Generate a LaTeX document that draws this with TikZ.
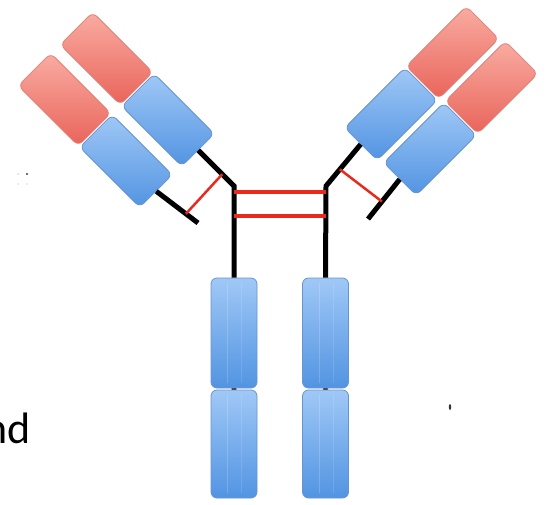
\documentclass[tikz,border=0pt]{standalone}
\usepackage{fontspec}
\setmainfont{Carlito}
\usetikzlibrary{calc}
\definecolor{bluetop}{RGB}{160,200,246}
\definecolor{bluebot}{RGB}{82,148,226}
\definecolor{blueedge}{RGB}{104,148,205}
\definecolor{redtop}{RGB}{249,172,162}
\definecolor{redbot}{RGB}{233,100,90}
\definecolor{rededge}{RGB}{226,128,118}
\definecolor{bondred}{RGB}{232,42,30}
\tikzset{
  dombox/.style={rounded corners=6pt, line width=0.8pt, inner sep=0pt},
  cblue/.style={dombox, draw=blueedge, top color=bluetop, bottom color=bluebot},
  cred/.style={dombox, draw=rededge, top color=redtop, bottom color=redbot},
  stemdom/.style={cblue, minimum width=46pt, minimum height=110pt},
  armblue/.style={cblue, minimum width=46pt, minimum height=85pt},
  armred/.style={cred, minimum width=46pt, minimum height=85pt},
  chain/.style={line width=5pt, black, line join=miter},
  sbond/.style={line width=4pt, bondred},
  sbondthin/.style={line width=2.5pt, bondred},
}
\begin{document}
\begin{tikzpicture}[x=1pt,y=-1pt]
\useasboundingbox (0,0) rectangle (548,505);

% constant domains of the two heavy chains (Fc stem)
\node[stemdom] (hc1L) at (234,333) {};
\node[stemdom, minimum height=108pt] (hc2L) at (234,444) {};
\node[stemdom] (hc1R) at (325.5,333) {};
\node[stemdom, minimum height=108pt] (hc2R) at (325.5,444) {};

% faint gloss lines inside the stem domains
\foreach \n in {hc1L,hc2L,hc1R,hc2R}{
  \draw[white, opacity=0.18, line width=0.8pt]
    ($(\n.north west)+(17,5)$) -- ($(\n.south west)+(17,-5)$);
  \draw[white, opacity=0.12, line width=0.8pt]
    ($(\n.north west)+(31,5)$) -- ($(\n.south west)+(31,-5)$);
}
\fill[black!70] ($(hc1L.south)!0.5!(hc2L.north)$) ellipse (3pt and 1pt);
\fill[black!70] ($(hc1R.south)!0.5!(hc2R.north)$) ellipse (3pt and 1pt);

% left Fab arm
\node[armblue, rotate=45] (hbL) at (168,120) {};
\node[armred,  rotate=45] (hvL) at (106.5,58.5) {};
\node[armblue, rotate=45] (lbL) at (126,161) {};
\node[armred,  rotate=45] (lvL) at (64.5,99.5) {};

% right Fab arm
\node[armblue, rotate=-45] (hbR) at (391,114) {};
\node[armred,  rotate=-45] (hvR) at (452.5,52.5) {};
\node[armblue, rotate=-45] (lbR) at (430,149) {};
\node[armred,  rotate=-45] (lvR) at (491.5,87.5) {};

% hinge points and free ends of the light chains
\coordinate (JL) at (234,186);
\coordinate (JR) at (326,186);
\coordinate (ltL) at (198,223);
\coordinate (ltR) at (368,219);

% heavy chain backbones
\draw[chain] (hbL.south) -- (JL) -- (hc1L.north);
\draw[chain] (hbR.south) -- (JR) -- (hc1R.north);
% light chain tails
\draw[chain] (lbL.south) -- (ltL);
\draw[chain] (lbR.south) -- (ltR);

% disulfide bonds
\draw[sbond] ($(JL)!0.065!(hc1L.north)$) -- ($(JR)!0.065!(hc1R.north)$);
\draw[sbond] ($(JL)!0.326!(hc1L.north)$) -- ($(JR)!0.326!(hc1R.north)$);
\draw[sbondthin] ($(JL)!0.33!(hbL.south)$) -- ($(lbL.south)!0.71!(ltL)$);
\draw[sbondthin] ($(JR)!0.4!(hbR.south)$) -- ($(lbR.south)!0.56!(ltR)$);

% stray marks
\fill[black!75] (27,174) circle (1.2pt);
\fill[black!15] (18,174) circle (1pt);
\fill[black!12] (18,184) circle (1pt);
\fill[black!12] (27,184) circle (1pt);
\fill[black!80] (450,407) ellipse (1.2pt and 3pt);

% caption text running off the left edge
\node[anchor=base east, inner sep=0pt, font=\fontsize{44}{44}\selectfont] (cap) at (31,443) {nd};
\end{tikzpicture}
\end{document}
